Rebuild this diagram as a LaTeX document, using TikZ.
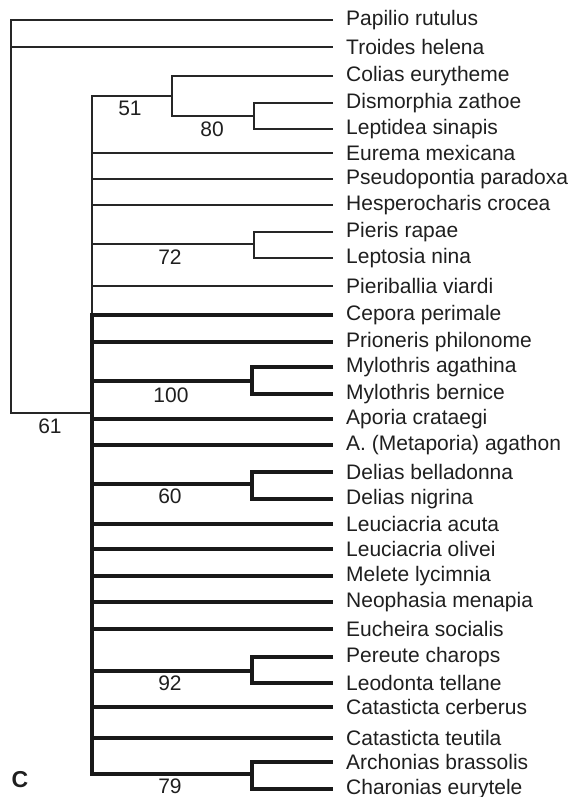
\documentclass[tikz,border=0pt]{standalone}
\usepackage{fontspec}
\setmainfont{Liberation Sans}
\begin{document}
\begin{tikzpicture}[x=1pt,y=-1pt,
  leaf/.style={anchor=west,inner xsep=13pt,inner ysep=0pt,font=\fontsize{21}{23}\selectfont,text=black!88},
  sup/.style={inner sep=0pt,font=\fontsize{21}{23}\selectfont,text=black!88},
  thinl/.style={draw=black!85,line width=1.3pt,line join=miter},
  thickl/.style={draw=black!90,line width=3.3pt,line join=miter}]
\useasboundingbox (0,0) rectangle (567,797);
% leaves
\foreach \i/\y/\t in {1/20/Papilio rutulus,2/47/Troides helena,3/76/Colias eurytheme,4/103/Dismorphia zathoe,5/129/Leptidea sinapis,6/153/Eurema mexicana,7/179/Pseudopontia paradoxa,8/205/Hesperocharis crocea,9/232/Pieris rapae,10/258/Leptosia nina,11/286/Pieriballia viardi,12/315/Cepora perimale,13/342/Prioneris philonome,14/367/Mylothris agathina,15/394/Mylothris bernice,16/419/Aporia crataegi,17/445/A. (Metaporia) agathon,18/472/Delias belladonna,19/499/Delias nigrina,20/524/Leuciacria acuta,21/549/Leuciacria olivei,22/576/Melete lycimnia,23/602/Neophasia menapia,24/629/Eucheira socialis,25/657/Pereute charops,26/683/Leodonta tellane,27/707/Catasticta cerberus,28/738/Catasticta teutila,29/762/Archonias brassolis,30/789/Charonias eurytele}
  \node[leaf] (L\i) at (333,\y) {\t};
% internal coordinates
\coordinate (rB) at (11,413);
\coordinate (pA) at (92,413);
\coordinate (n51) at (172,96);
\coordinate (c51b) at (172,116);
\coordinate (c80) at (254,116);
\coordinate (c72) at (254,244);
\coordinate (pT) at (92,315);
\coordinate (pB) at (92,774);
\coordinate (c100) at (252,381);
\coordinate (c60) at (252,484);
\coordinate (c92) at (252,671);
\coordinate (c79) at (252,774);
% root
\draw[thinl] (L1.west) -| (rB) -- (pA);
\draw[thinl] (rB |- L2) -- (L2.west);
% thin part of Pieridae
\draw[thinl] (n51) -| (pT);
\draw[thinl] (L3.west) -| (c51b) -- (c80);
\draw[thinl] (L4.west) -| (c80) |- (L5.west);
\foreach \i in {6,7,8,11} \draw[thinl] (pT |- L\i) -- (L\i.west);
\draw[thinl] (pT |- c72) -- (c72);
\draw[thinl] (L9.west) -| (c72) |- (L10.west);
% thick part
\draw[thickl] (L12.west) -| (pB) -- (c79);
\foreach \i in {13,16,17,20,21,22,23,24,27,28} \draw[thickl] (pB |- L\i) -- (L\i.west);
\foreach \c/\a/\b in {c100/14/15,c60/18/19,c92/25/26} {
  \draw[thickl] (pB |- \c) -- (\c);
  \draw[thickl] (L\a.west) -| (\c) |- (L\b.west);
}
\draw[thickl] (L29.west) -| (c79) |- (L30.west);
% support values
\node[sup] (s51) at (130,108) {51};
\node[sup] (s80) at (212,129) {80};
\node[sup] (s72) at (170,257) {72};
\node[sup] (s100) at (171,395) {100};
\node[sup] (s61) at (50,426) {61};
\node[sup] (s60) at (170,496) {60};
\node[sup] (s92) at (170,683) {92};
\node[sup] (s79) at (170,786) {79};
\node[sup,font=\fontsize{23}{24}\selectfont\bfseries] (lab) at (20,780) {C};
\end{tikzpicture}
\end{document}
